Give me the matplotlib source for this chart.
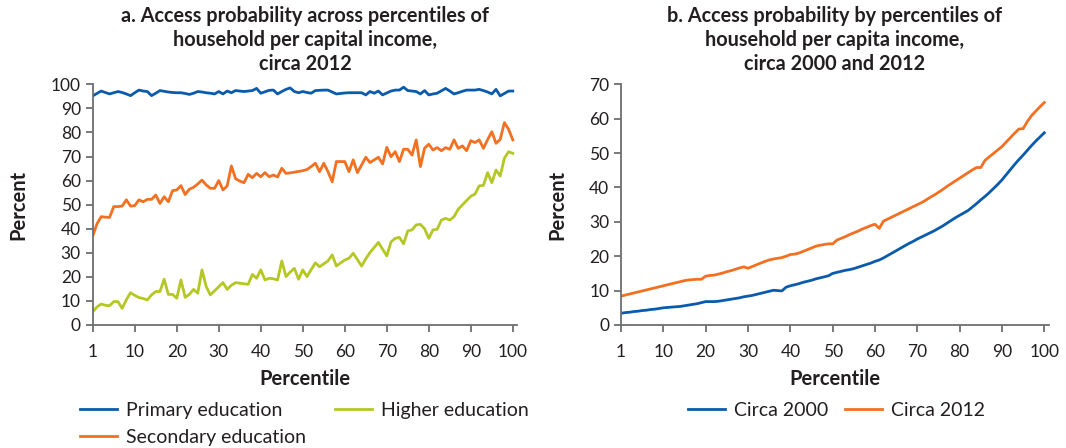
import numpy as np
import matplotlib
matplotlib.use("Agg")
import matplotlib.pyplot as plt

plt.rcParams["font.family"] = ["Lato", "DejaVu Sans"]

# Panel a: access probability by education level, percentiles of income (circa 2012)
primary = [95.2, 96.2, 97.2, 96.6, 96.0, 96.5, 97.0, 96.6, 96.0, 95.3,
           96.5, 97.6, 97.2, 97.0, 95.3, 96.3, 97.4, 97.1, 96.8, 96.6,
           96.5, 96.5, 96.2, 95.8, 96.3, 97.0, 96.8, 96.5, 96.3, 96.0,
           97.0, 96.0, 97.2, 96.5, 97.4, 97.2, 97.0, 97.2, 97.4, 98.3,
           96.3, 96.9, 97.5, 97.6, 96.0, 97.0, 97.9, 98.5, 97.0, 96.5,
           97.0, 96.6, 96.3, 97.4, 97.5, 97.6, 97.6, 96.8, 96.0, 96.2,
           96.4, 96.5, 96.5, 96.5, 96.5, 95.6, 97.0, 96.3, 97.2, 95.6,
           96.4, 97.2, 97.6, 97.6, 98.8, 97.4, 97.2, 97.0, 96.0, 97.4,
           95.6, 96.0, 96.3, 97.3, 98.3, 97.2, 96.0, 96.5, 97.1, 97.6,
           97.6, 97.6, 97.9, 97.4, 96.8, 96.0, 97.9, 95.2, 96.2, 97.2,
           97.2]
secondary = [37.0, 42.0, 45.0, 44.8, 44.7, 49.2, 49.2, 49.4, 52.0, 49.4,
             49.6, 52.0, 51.2, 52.2, 52.2, 54.0, 50.5, 53.3, 51.2, 55.8,
             56.1, 57.9, 54.2, 56.4, 57.2, 58.6, 60.2, 58.2, 56.8, 56.8,
             60.0, 56.1, 57.8, 66.1, 60.8, 59.8, 59.1, 62.6, 61.2, 63.0,
             61.6, 63.3, 61.6, 62.3, 61.5, 65.1, 63.0, 63.2, 63.5, 63.8,
             64.1, 64.6, 65.8, 67.2, 63.7, 67.2, 63.7, 59.5, 67.9, 67.9,
             67.9, 63.7, 68.6, 63.3, 66.5, 69.7, 67.5, 68.6, 69.7, 66.9,
             73.8, 69.9, 72.0, 67.9, 73.0, 73.0, 70.6, 76.9, 65.8, 73.5,
             75.1, 72.7, 73.7, 72.4, 73.7, 73.0, 76.9, 73.4, 74.4, 72.4,
             76.6, 75.8, 76.9, 73.4, 77.0, 80.3, 75.5, 77.1, 84.1, 81.3,
             76.9]
higher = [5.5, 7.5, 8.7, 8.2, 8.0, 9.7, 9.7, 6.9, 10.5, 13.4,
          12.3, 11.4, 11.0, 10.4, 12.5, 13.9, 13.9, 19.0, 12.7, 12.7,
          11.1, 18.7, 11.5, 12.7, 14.8, 13.2, 22.9, 16.0, 12.5, 14.2,
          15.9, 17.6, 14.8, 16.5, 17.6, 17.4, 17.1, 16.9, 21.0, 19.4,
          22.9, 18.7, 19.4, 19.2, 18.7, 26.6, 20.1, 22.0, 23.5, 19.0,
          22.9, 20.1, 23.0, 25.8, 24.2, 25.4, 26.6, 29.1, 24.5, 25.8,
          27.0, 27.7, 29.8, 27.2, 24.5, 27.5, 30.1, 32.2, 34.3, 31.5,
          28.7, 34.5, 36.0, 36.4, 33.7, 39.1, 39.5, 41.6, 41.8, 40.0,
          36.0, 39.5, 39.8, 43.6, 44.3, 43.6, 45.0, 48.1, 49.9, 51.7,
          53.5, 54.4, 57.8, 58.0, 63.3, 59.1, 64.4, 61.9, 69.3, 72.0,
          71.3]

# Panel b: access probability circa 2000 and 2012
circa_2000 = [3.4, 3.6, 3.7, 3.9, 4.0, 4.2, 4.3, 4.5, 4.6, 4.8,
              5.0, 5.1, 5.2, 5.3, 5.4, 5.6, 5.8, 6.0, 6.2, 6.5,
              6.8, 6.8, 6.8, 6.9, 7.1, 7.3, 7.5, 7.7, 7.9, 8.2,
              8.4, 8.6, 8.9, 9.2, 9.5, 9.8, 10.1, 10.0, 9.9, 11.0,
              11.4, 11.7, 12.0, 12.4, 12.7, 13.0, 13.4, 13.7, 14.0, 14.3,
              15.0, 15.3, 15.6, 15.9, 16.1, 16.4, 16.8, 17.2, 17.6, 18.0,
              18.5, 18.9, 19.5, 20.2, 20.9, 21.6, 22.3, 23.0, 23.7, 24.3,
              25.0, 25.6, 26.2, 26.8, 27.4, 28.1, 28.8, 29.6, 30.4, 31.2,
              31.9, 32.6, 33.3, 34.3, 35.3, 36.4, 37.4, 38.5, 39.7, 40.9,
              42.2, 43.7, 45.2, 46.7, 48.1, 49.4, 50.8, 52.2, 53.5, 54.7,
              55.9]
circa_2012 = [8.4, 8.7, 9.0, 9.3, 9.6, 9.9, 10.2, 10.5, 10.8, 11.1,
              11.4, 11.7, 12.0, 12.3, 12.6, 12.9, 13.1, 13.2, 13.3, 13.3,
              14.2, 14.4, 14.5, 14.8, 15.1, 15.5, 15.8, 16.2, 16.6, 16.9,
              16.5, 17.0, 17.5, 18.0, 18.5, 18.9, 19.2, 19.4, 19.6, 20.0,
              20.5, 20.6, 20.9, 21.4, 21.9, 22.4, 22.9, 23.2, 23.4, 23.6,
              23.6, 24.7, 25.2, 25.7, 26.3, 26.8, 27.3, 27.9, 28.4, 28.9,
              29.3, 28.1, 30.2, 30.8, 31.4, 32.0, 32.6, 33.2, 33.8, 34.4,
              35.0, 35.6, 36.3, 37.1, 37.8, 38.6, 39.4, 40.3, 41.1, 41.9,
              42.7, 43.5, 44.3, 45.1, 45.8, 45.8, 47.9, 48.9, 49.9, 50.9,
              51.9, 53.2, 54.5, 55.8, 57.0, 57.1, 59.2, 60.9, 62.2, 63.5,
              64.7]

tick_pos = list(range(0, 101, 10))
tick_labels = ["1"] + [str(t) for t in range(10, 101, 10)]

blue = "#0a5bab"
orange = "#f37021"
green = "#b4c724"
text_col = "#231f20"
spine_col = "#6d6e71"

fig = plt.figure(figsize=(10.66, 4.48), dpi=100)
ax1 = fig.add_axes([0.087, 0.2746, 0.398, 0.5372])
ax2 = fig.add_axes([0.5826, 0.2746, 0.401, 0.5372])

def style(ax, ymax, ystep):
    ax.set_xlim(0, 101)
    ax.set_ylim(0, ymax)
    ax.set_xticks(tick_pos)
    ax.set_xticklabels(tick_labels)
    ax.set_yticks(np.arange(0, ymax + 1, ystep))
    for s in ["top", "right"]:
        ax.spines[s].set_visible(False)
    for s in ["left", "bottom"]:
        ax.spines[s].set_color(spine_col)
        ax.spines[s].set_linewidth(1.3)
    ax.tick_params(axis="both", colors=spine_col, labelcolor=text_col,
                   labelsize=12.5, length=5, width=1.3, direction="out")
    ax.tick_params(axis="x", pad=9)
    ax.set_xlabel("Percentile", fontsize=14.5, fontweight="bold",
                  color=text_col, labelpad=6)
    ax.set_ylabel("Percent", fontsize=14.5, fontweight="bold",
                  color=text_col, labelpad=16)

leg_kw = dict(frameon=False, fontsize=14, handlelength=1.9, handletextpad=0.45,
              borderpad=0, borderaxespad=0, labelcolor=text_col,
              labelspacing=0.5, loc="upper left", bbox_transform=fig.transFigure)

title_kw = dict(fontsize=14.3, fontweight="bold", color=text_col, pad=10,
                linespacing=1.25)

x = np.arange(len(primary))
ax1.plot(x, primary, color=blue, lw=2, label="Primary education")
ax1.plot(x, secondary, color=orange, lw=2, label="Secondary education")
ax1.plot(x, higher, color=green, lw=2, label="Higher education")
style(ax1, 100, 10)
ax1.set_title("a. Access probability across percentiles of\nhousehold per capital income,\ncirca 2012",
              **title_kw)
ax1.legend(bbox_to_anchor=(0.075, 0.102), ncol=2, columnspacing=1.5, **leg_kw)

x2 = np.arange(len(circa_2000))
ax2.plot(x2, circa_2000, color=blue, lw=2, label="Circa 2000")
ax2.plot(x2, circa_2012, color=orange, lw=2, label="Circa 2012")
style(ax2, 70, 10)
ax2.set_title("b. Access probability by percentiles of\nhousehold per capita income,\ncirca 2000 and 2012",
              **title_kw)
ax2.legend(bbox_to_anchor=(0.6454, 0.102), ncol=2, columnspacing=0.9, **leg_kw)

fig.savefig("out.png", dpi=100)
